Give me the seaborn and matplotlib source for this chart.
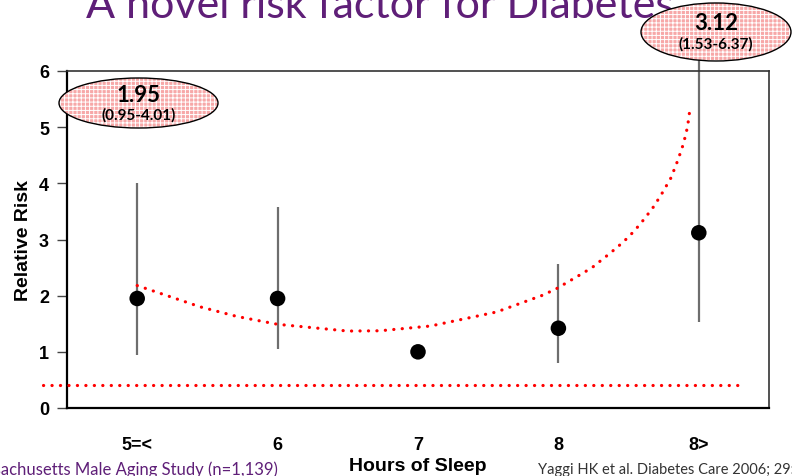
import numpy as np
import pandas as pd
import matplotlib
matplotlib.use("Agg")
import matplotlib.pyplot as plt
from matplotlib.patches import Ellipse
import seaborn as sns

# Relative risk of diabetes by usual hours of sleep
categories = ["5=<", "6", "7", "8", "8>"]
relative_risk = [1.95, 1.95, 1.00, 1.42, 3.12]
ci_low = [0.95, 1.05, np.nan, 0.80, 1.53]
ci_high = [4.01, 3.58, np.nan, 2.56, 6.37]

# U-shaped trend (hand-traced guide curve), positions in category units
trend_x = [0.00, 0.45, 0.71, 1.00, 1.50, 1.73, 2.09, 2.56, 2.89, 2.99, 3.14,
           3.24, 3.37, 3.46, 3.54, 3.61, 3.68, 3.74, 3.80, 3.84, 3.88, 3.91,
           3.93, 3.935]
trend_y = [2.18, 1.80, 1.63, 1.49, 1.37, 1.375, 1.46, 1.71, 2.01, 2.13, 2.35,
           2.50, 2.76, 2.95, 3.15, 3.36, 3.59, 3.83, 4.09, 4.34, 4.62, 4.89,
           5.17, 5.31]

# Horizontal reference line
ref_x = [-0.67, 4.28]
ref_y = [0.41, 0.41]

yticks = [0, 1, 2, 3, 4, 5, 6]
callouts = [("1.95", "(0.95-4.01)"), ("3.12", "(1.53-6.37)")]

title = "A novel risk factor for Diabetes"
study_note = "Massachusetts Male Aging Study (n=1,139)"
citation = "Yaggi HK et al. Diabetes Care 2006; 29:657-661"

W, H = 792, 477
sns.set_theme(style="white")
plt.rcParams["font.family"] = ["Liberation Sans", "DejaVu Sans"]
plt.rcParams["hatch.linewidth"] = 0.7
plt.rcParams["text.color"] = "black"
plt.rcParams["axes.labelcolor"] = "black"
plt.rcParams["xtick.color"] = "black"
plt.rcParams["ytick.color"] = "black"

fig = plt.figure(figsize=(W / 100, H / 100), dpi=100)
ax = fig.add_axes([67 / W, 1 - 409 / H, (769 - 67) / W, (409 - 72) / H])

df = pd.DataFrame({"pos": np.arange(len(categories)), "rr": relative_risk,
                   "lo": ci_low, "hi": ci_high})
trend = pd.DataFrame({"x": trend_x, "y": trend_y})

# confidence intervals
ax.vlines(df["pos"], df["lo"], df["hi"], color="#6e6e6e", lw=1.6, zorder=2,
          clip_on=False)

# trend curve and reference line, round dots
dot_kw = dict(color="#ff0000", lw=2.3, dashes=(0.05, 2.6),
              dash_capstyle="round", zorder=3)
sns.lineplot(data=trend, x="x", y="y", ax=ax, sort=False, **dot_kw)
ax.plot(ref_x, ref_y, clip_on=False, **dot_kw)
for l in ax.get_lines():
    l.set_dash_capstyle("round")

sns.scatterplot(data=df, x="pos", y="rr", ax=ax, color="black", s=125,
                edgecolor="none", zorder=4)

ax.set_xlim(-0.5, 4.5)
ax.set_ylim(0, 6)
ax.set_yticks(yticks)
ax.set_yticklabels([str(t) for t in yticks], fontsize=13, fontweight="bold")
ax.set_xticks(range(len(categories)))
ax.set_xticklabels(categories, fontsize=13, fontweight="bold")
ax.set_xticks(np.arange(-0.5, 4.6, 1.0), minor=True)
ax.tick_params(axis="x", which="major", length=0, pad=20)
ax.tick_params(axis="x", which="minor", direction="inout", length=12,
               width=1.0, color="#444444")
ax.tick_params(axis="y", which="major", direction="out", length=7,
               width=1.0, color="#444444", pad=6, left=True)
ax.set_xlabel("")
ax.set_ylabel("Relative Risk", fontsize=14, fontweight="bold", labelpad=5)
for side in ["top", "right", "left", "bottom"]:
    ax.spines[side].set_visible(True)
    ax.spines[side].set_color("#333333")
    ax.spines[side].set_linewidth(1.2)
ax.spines["bottom"].set_linewidth(1.6)
ax.spines["left"].set_linewidth(1.6)
ax.spines["left"].set_color("black")
ax.spines["bottom"].set_color("black")

# axis title under the category labels
fig.text(418 / W, 1 - 467 / H, "Hours of Sleep", ha="center", va="center",
         fontsize=14, fontweight="bold")

# callout ellipses
callout_boxes = [(138.5, 104, 159, 50), (716, 33, 150, 58)]
for (cx, cy, ew, eh), (val, ci) in zip(callout_boxes, callouts):
    center = (cx / W, 1 - cy / H)
    fill = Ellipse(center, ew / W, eh / H, transform=fig.transFigure,
                   facecolor="#f7a8a8", edgecolor="white", hatch="++++",
                   lw=0, zorder=10)
    edge = Ellipse(center, ew / W, eh / H, transform=fig.transFigure,
                   facecolor="none", edgecolor="black", lw=1.0, zorder=11)
    fig.patches.extend([fill, edge])
    fig.text(cx / W, 1 - (cy - 9) / H, val, ha="center", va="center",
             fontsize=16, fontweight="bold", family=["Lato", "DejaVu Sans"],
             zorder=12)
    fig.text(cx / W, 1 - (cy + 11) / H, ci, ha="center", va="center",
             fontsize=11, fontweight="bold", family=["Lato", "DejaVu Sans"],
             zorder=12)

# slide title and footnotes
fig.text(380 / W, 1 - 18 / H, title, ha="center", va="baseline",
         fontsize=31, color="#5f1f78", family=["Lato", "DejaVu Sans"])
fig.text(278 / W, 1 - 470 / H, study_note, ha="right", va="center",
         fontsize=12, color="#5f1f78", family=["Lato", "DejaVu Sans"])
fig.text(538 / W, 1 - 470 / H, citation, ha="left", va="center",
         fontsize=10.5, color="#333333", family=["Lato", "DejaVu Sans"])

fig.savefig("out.png", dpi=100)
